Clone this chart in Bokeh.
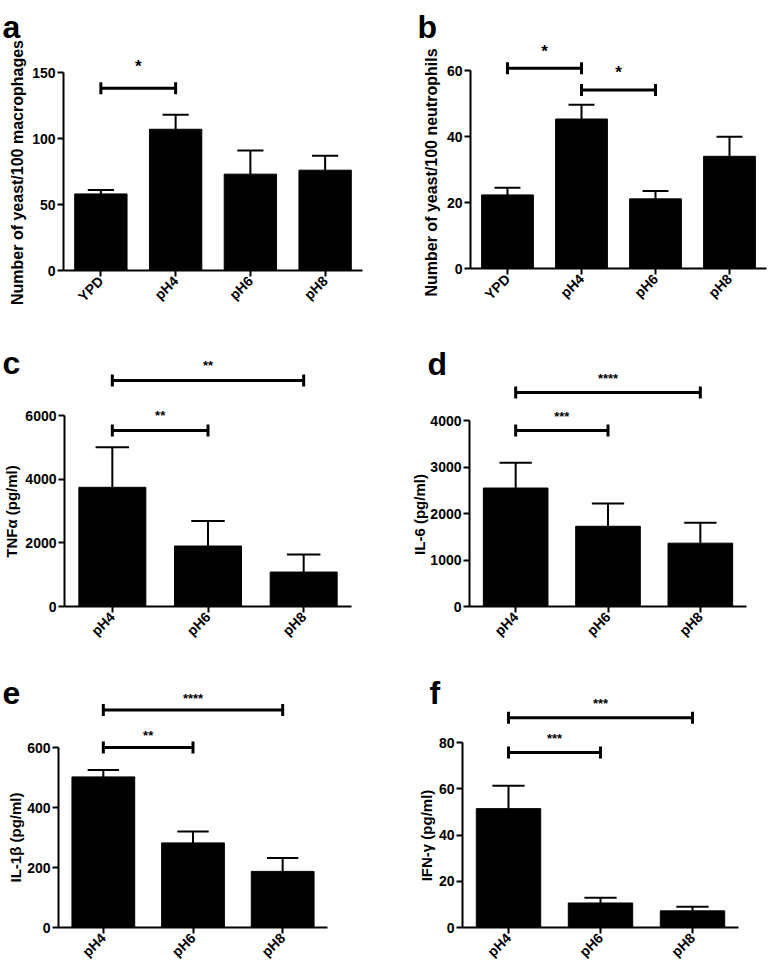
from math import pi
from bokeh.plotting import figure
from bokeh.models import Range1d, FixedTicker, ColumnDataSource
from bokeh.layouts import column, row
from bokeh.embed import file_html
from bokeh.resources import INLINE

# ---------------- data ----------------
cats_ab = ["YPD", "pH4", "pH6", "pH8"]
cats_cf = ["pH4", "pH6", "pH8"]

mac_mean = [58, 107, 73, 76]
mac_sem = [3, 11, 18, 11]
neu_mean = [22.3, 45.3, 21.1, 34.0]
neu_sem = [2.2, 4.3, 2.4, 5.9]
tnf_mean = [3744, 1900, 1082]
tnf_sem = [1259, 787, 554]
il6_mean = [2548, 1725, 1362]
il6_sem = [546, 489, 437]
il1b_mean = [502, 282, 187]
il1b_sem = [23, 38, 45]
ifng_mean = [51.4, 10.6, 7.2]
ifng_sem = [9.9, 2.3, 1.8]

# significance brackets: (from category, to category, bracket value, stars)
sig_a = [("YPD", "pH4", 138, "*")]
sig_b = [("YPD", "pH4", 60.7, "*"), ("pH4", "pH6", 54.1, "*")]
sig_c = [("pH4", "pH6", 5525, "**"), ("pH4", "pH8", 7101, "**")]
sig_d = [("pH4", "pH6", 3786, "***"), ("pH4", "pH8", 4600, "****")]
sig_e = [("pH4", "pH6", 600, "**"), ("pH4", "pH8", 725, "****")]
sig_f = [("pH4", "pH6", 75.7, "***"), ("pH4", "pH8", 90.7, "***")]

ticks_a = [0, 50, 100, 150]
ticks_b = [0, 20, 40, 60]
ticks_c = [0, 2000, 4000, 6000]
ticks_d = [0, 1000, 2000, 3000, 4000]
ticks_e = [0, 200, 400, 600]
ticks_f = [0, 20, 40, 60, 80]

FONT = "Liberation Sans"


def make_panel(cats, means, sems, sigs, ticks, letter, ylabel,
               box, yaxis_px, xend_px, y0, axis_top_px,
               ylab_pos, letter_pos, ylab_size, star_size, star_gap):
    fx, fy, W, H = box
    n = len(cats)
    xs = [i + 0.5 for i in range(n)]
    pos = dict(zip(cats, xs))
    axis_max = ticks[-1]
    sp = (xend_px - yaxis_px) / n            # pixels per category
    sc = (y0 - axis_top_px) / axis_max       # pixels per unit

    def dx(px):
        return (px - yaxis_px) / sp

    def dy(py):
        return (y0 - py) / sc

    p = figure(width=W, height=H,
               x_range=Range1d(dx(fx), dx(fx + W)), y_range=Range1d(dy(fy + H), dy(fy)),
               toolbar_location=None, output_backend="svg", min_border=0)
    p.outline_line_color = None
    p.grid.visible = False
    p.background_fill_color = "white"
    p.border_fill_color = "white"

    # bars + upper error bars
    src = ColumnDataSource(dict(x=xs, top=means,
                                up=[m + s for m, s in zip(means, sems)],
                                cl=[x - 0.175 for x in xs],
                                cr=[x + 0.175 for x in xs]))
    p.vbar(x="x", top="top", width=0.7, source=src, fill_color="black", line_color="black")
    p.segment(x0="x", y0="top", x1="x", y1="up", source=src, line_color="black", line_width=2)
    p.segment(x0="cl", y0="up", x1="cr", y1="up", source=src, line_color="black", line_width=2)

    # significance brackets
    bx0 = [pos[s[0]] for s in sigs]
    bx1 = [pos[s[1]] for s in sigs]
    by = [s[2] for s in sigs]
    p.segment(x0=bx0, y0=by, x1=bx1, y1=by, line_color="black", line_width=3)
    p.scatter(x=bx0 + bx1, y=by + by, marker="dash", angle=pi / 2, size=12,
              line_color="black", line_width=3)
    p.text(x=[(a + b) / 2 for a, b in zip(bx0, bx1)], y=by, text=[s[3] for s in sigs],
           text_align="center", text_baseline="middle", y_offset=-star_gap,
           text_font={"value": FONT}, text_font_style="bold",
           text_font_size="%dpx" % star_size, text_color="black")

    # axes drawn at the data origin
    xa = p.xaxis[0]
    xa.fixed_location = 0
    xa.bounds = (0, n)
    xa.ticker = FixedTicker(ticks=xs)
    xa.major_label_overrides = {x: c for x, c in zip(xs, cats)}
    xa.major_label_orientation = pi / 4
    ya = p.yaxis[0]
    ya.fixed_location = 0
    ya.ticker = FixedTicker(ticks=ticks)
    ya.bounds = (0, axis_max)
    for ax in (xa, ya):
        ax.axis_line_width = 2
        ax.axis_line_color = "black"
        ax.major_tick_line_width = 2
        ax.major_tick_line_color = "black"
        ax.major_tick_in = 0
        ax.major_tick_out = 6
        ax.minor_tick_line_color = None
        ax.major_label_standoff = 2
        ax.major_label_text_font = FONT
        ax.major_label_text_font_style = "bold"
        ax.major_label_text_font_size = "14px"
        ax.major_label_text_color = "black"

    # y axis title and panel letter
    p.text(x=[dx(ylab_pos[0])], y=[dy(ylab_pos[1])], text=[ylabel], angle=pi / 2,
           text_align="center", text_baseline="middle",
           text_font={"value": FONT}, text_font_style="bold",
           text_font_size="%dpx" % ylab_size, text_color="black")
    p.text(x=[dx(letter_pos[0])], y=[dy(letter_pos[1])], text=[letter],
           text_align="left", text_baseline="alphabetic",
           text_font={"value": FONT}, text_font_style="bold",
           text_font_size="32px", text_color="black")
    return p


pa = make_panel(cats_ab, mac_mean, mac_sem, sig_a, ticks_a, "a", "Number of yeast/100 macrophages",
                (0, 0, 384, 318), 63, 362, 270, 72, (17, 172), (2, 26), 16, 17, 22)
pb = make_panel(cats_ab, neu_mean, neu_sem, sig_b, ticks_b, "b", "Number of yeast/100 neutrophils",
                (384, 0, 384, 318), 470, 766, 268, 70, (431, 172), (417, 26), 16, 17, 17)
pc = make_panel(cats_cf, tnf_mean, tnf_sem, sig_c, ticks_c, "c", "TNFα (pg/ml)",
                (0, 318, 384, 327), 64, 351, 606, 415, (11, 511), (2, 362), 15, 13, 15)
pd_ = make_panel(cats_cf, il6_mean, il6_sem, sig_d, ticks_d, "d", "IL-6 (pg/ml)",
                 (384, 318, 384, 327), 469, 746, 606, 420, (419, 514), (427, 363), 15, 13, 14)
pe = make_panel(cats_cf, il1b_mean, il1b_sem, sig_e, ticks_e, "e", "IL-1β (pg/ml)",
                (0, 645, 384, 320), 58, 327, 927, 747, (15, 837), (2, 692), 15, 13, 12)
pf = make_panel(cats_cf, ifng_mean, ifng_sem, sig_f, ticks_f, "f", "IFN-γ (pg/ml)",
                (384, 645, 384, 320), 462, 738, 927, 742, (426, 835), (429, 692), 15, 13, 14)

layout = column(row(pa, pb), row(pc, pd_), row(pe, pf))
open("out.html", "w").write(file_html(layout, INLINE))
